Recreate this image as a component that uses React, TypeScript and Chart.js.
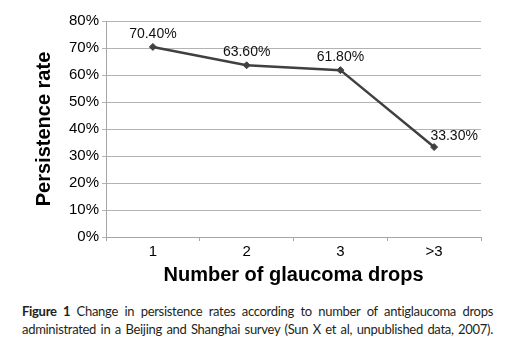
import React, { useEffect, useRef } from "react";
import { Chart, registerables } from "chart.js";

Chart.register(...registerables);

const categories = ["1", "2", "3", ">3"];
const persistence = [70.4, 63.6, 61.8, 33.3];
const valueLabels = ["70.40%", "63.60%", "61.80%", "33.30%"];
const yTicks = [0, 10, 20, 30, 40, 50, 60, 70, 80];

const labelPlugin = {
  id: "valueLabels",
  afterDatasetsDraw(chart: any) {
    const ctx = chart.ctx;
    const meta = chart.getDatasetMeta(0);
    ctx.save();
    ctx.font = "14px 'Liberation Sans', Arial, sans-serif";
    ctx.fillStyle = "#111";
    ctx.textAlign = "center";
    ctx.textBaseline = "middle";
    meta.data.forEach((pt: any, i: number) => {
      const last = i === meta.data.length - 1;
      ctx.fillText(valueLabels[i], pt.x + (last ? 20 : 0), pt.y - (last ? 11 : 13));
    });
    ctx.restore();
  },
};

export default function App() {
  const ref = useRef<HTMLCanvasElement | null>(null);
  useEffect(() => {
    if (!ref.current) return;
    const chart = new Chart(ref.current, {
      type: "line",
      data: {
        labels: categories,
        datasets: [
          {
            data: persistence,
            borderColor: "#404040",
            backgroundColor: "#404040",
            borderWidth: 2.5,
            pointStyle: "rectRot",
            pointRadius: 3.5,
            pointBorderWidth: 1,
            pointBackgroundColor: "#404040",
            pointBorderColor: "#404040",
            tension: 0,
          },
        ],
      },
      options: {
        animation: false,
        responsive: false,
        devicePixelRatio: 1,
        layout: { padding: { top: 21, right: 29, left: 0, bottom: 0 } },
        plugins: { legend: { display: false }, tooltip: { enabled: false } },
        scales: {
          x: {
            offset: true,
            grid: {
              offset: true,
              drawOnChartArea: false,
              tickLength: 4,
              color: "#a6a6a6",
            },
            border: { color: "#a6a6a6" },
            ticks: {
              padding: 2,
              color: "#000",
              font: { family: "'Liberation Sans', Arial, sans-serif", size: 15 },
            },
            title: {
              display: true,
              text: "Number of glaucoma drops",
              color: "#000",
              font: { family: "'Liberation Sans', Arial, sans-serif", size: 20, weight: "bold" },
              padding: { top: 0, bottom: 3 },
            },
            afterFit(scale: any) {
              scale.height = 53;
            },
          },
          y: {
            min: 0,
            max: 80,
            afterBuildTicks(scale: any) {
              scale.ticks = yTicks.map((v) => ({ value: v }));
            },
            grid: { color: "#b3b3b3", tickLength: 4 },
            border: { color: "#a6a6a6" },
            ticks: {
              padding: 3,
              color: "#000",
              font: { family: "'Liberation Sans', Arial, sans-serif", size: 15 },
              callback: (v: any) => `${v}%`,
            },
            title: {
              display: true,
              text: "Persistence rate",
              color: "#000",
              font: { family: "'Liberation Sans', Arial, sans-serif", size: 20, weight: "bold" },
              padding: { top: 32, bottom: 0 },
            },
            afterFit(scale: any) {
              scale.width = 106;
            },
          },
        },
      },
      plugins: [labelPlugin],
    });
    return () => chart.destroy();
  }, []);

  return (
    <div style={{ position: "absolute", left: 0, top: 0, width: 510, height: 353, background: "#fff" }}>
      <canvas ref={ref} width={510} height={290} style={{ display: "block", width: 510, height: 290 }} />
      <div
        style={{
          position: "absolute",
          left: 22,
          top: 302,
          width: 471,
          fontFamily: "Lato, 'Open Sans', sans-serif",
          fontSize: 13,
          letterSpacing: "-0.3px",
          lineHeight: "18px",
          color: "#231f20",
          textAlign: "justify",
          textAlignLast: "justify",
          whiteSpace: "nowrap",
        }}
      >
        <div>
          <b>Figure 1</b> Change in persistence rates according to number of antiglaucoma drops
        </div>
        <div>administrated in a Beijing and Shanghai survey (Sun X et al, unpublished data, 2007).</div>
      </div>
    </div>
  );
}
